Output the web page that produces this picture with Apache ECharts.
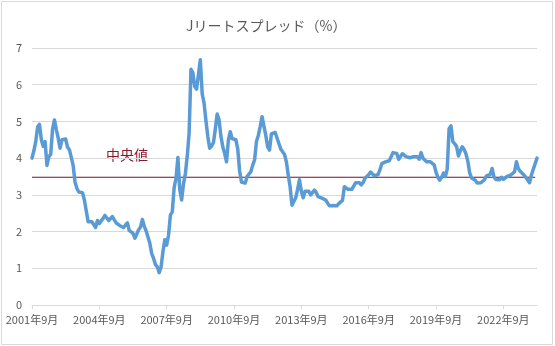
<!DOCTYPE html>
<html>
<head>
<meta charset="utf-8">
<script src="https://cdn.jsdelivr.net/npm/echarts@6/dist/echarts.min.js"></script>
<style>
  html, body { margin: 0; padding: 0; background: #fff; }
  #chart { width: 555px; height: 346px; }
</style>
</head>
<body>
<div id="chart"></div>
<script>
// J-REIT spread (%), monthly, from September 2001
const startYear = 2001;
const startMonth = 9;

const spread = [
  4.00, 4.20, 4.45, 4.85, 4.92, 4.50, 4.32, 4.45, 3.80, 4.04, 4.10, 4.80,
  5.04, 4.78, 4.55, 4.27, 4.50, 4.53, 4.52, 4.30, 4.23, 4.02, 3.80, 3.35,
  3.18, 3.08, 3.05, 3.06, 2.86, 2.82, 2.27, 2.32, 2.27, 2.23, 2.11, 2.30,
  2.22, 2.24, 2.36, 2.44, 2.45, 2.30, 2.33, 2.41, 2.32, 2.24, 2.20, 2.16,
  2.16, 2.11, 2.18, 2.24, 2.03, 2.00, 1.95, 1.82, 1.93, 2.05, 2.12, 2.33,
  2.15, 2.02, 1.85, 1.68, 1.40, 1.27, 1.10, 1.04, 0.88, 1.03, 1.45, 1.78,
  1.63, 1.90, 2.45, 2.54, 3.20, 3.45, 4.02, 3.15, 2.86, 3.30, 3.58, 4.05,
  4.68, 6.42, 6.33, 5.95, 5.88, 5.88, 6.68, 5.75, 5.50, 5.02, 4.59, 4.27,
  4.33, 4.42, 4.79, 5.20, 5.05, 4.60, 4.31, 4.13, 3.90, 4.50, 4.72, 4.53,
  4.56, 4.50, 4.25, 3.65, 3.35, 3.30, 3.32, 3.50, 3.45, 3.63, 3.81, 3.95,
  4.45, 4.62, 4.86, 5.13, 5.09, 4.62, 4.31, 4.22, 4.66, 4.63, 4.70, 4.55,
  4.40, 4.25, 4.20, 4.10, 3.90, 3.54, 3.22, 2.72, 2.72, 2.92, 3.15, 3.41,
  3.10, 2.92, 3.10, 3.05, 3.10, 3.00, 3.05, 3.13, 3.06, 2.95, 2.92, 2.91,
  2.88, 2.86, 2.82, 2.70, 2.75, 2.71, 2.75, 2.70, 2.76, 2.72, 2.85, 3.22,
  3.22, 3.15, 3.12, 3.15, 3.24, 3.33, 3.30, 3.33, 3.27, 3.33, 3.45, 3.43,
  3.55, 3.62, 3.63, 3.52, 3.48, 3.55, 3.68, 3.85, 3.88, 3.90, 3.95, 3.93,
  4.04, 4.15, 4.18, 4.13, 3.97, 4.02, 4.12, 4.07, 4.04, 4.03, 4.01, 4.00,
  4.04, 4.00, 4.04, 3.97, 4.15, 4.00, 4.02, 3.90, 3.95, 3.90, 3.90, 3.82,
  3.62, 3.48, 3.40, 3.48, 3.59, 3.50, 3.70, 4.80, 4.88, 4.45, 4.39, 4.32,
  4.06, 4.20, 4.31, 4.24, 4.12, 3.92, 3.60, 3.46, 3.42, 3.40, 3.32, 3.27,
  3.33, 3.36, 3.42, 3.52, 3.50, 3.56, 3.72, 3.48, 3.42, 3.45, 3.41, 3.48,
  3.42, 3.45, 3.50, 3.50, 3.54, 3.59, 3.63, 3.90, 3.72, 3.64, 3.68, 3.54,
  3.48, 3.45, 3.33, 3.54, 3.70, 3.65, 4.00
];

const medianValue = 3.48;
const medianLabel = '中央値';
const titleText = 'Jリートスプレッド（%）';
const yTicks = [0, 1, 2, 3, 4, 5, 6, 7];
const labelStepMonths = 36;

// Month categories, e.g. "2001年9月"
const months = spread.map((_, i) => {
  const t = (startMonth - 1) + i;
  return (startYear + Math.floor(t / 12)) + '年' + (t % 12 + 1) + '月';
});
// Median reference line runs to the month before the last observation
const medianSeries = months.map((_, i) => (i < months.length - 1 ? medianValue : null));

const FONT = '"Noto Sans CJK JP", "Noto Sans", sans-serif';
const chart = echarts.init(document.getElementById('chart'), null, { renderer: 'canvas' });

chart.setOption({
  animation: false,
  backgroundColor: '#ffffff',
  title: {
    text: titleText,
    left: 181,
    top: 14,
    textStyle: { fontFamily: FONT, fontSize: 14, fontWeight: 'normal', color: '#595959' }
  },
  grid: { left: 32, right: 18, top: 48, bottom: 41, containLabel: false },
  xAxis: {
    type: 'category',
    data: months,
    boundaryGap: false,
    axisLine: { show: true, lineStyle: { color: '#d9d9d9', width: 1 } },
    axisTick: {
      show: true,
      length: 4,
      interval: (i) => i % labelStepMonths === 0,
      lineStyle: { color: '#d9d9d9' }
    },
    axisLabel: {
      interval: (i) => i % labelStepMonths === 0,
      color: '#595959',
      fontFamily: FONT,
      fontSize: 11,
      margin: 9
    },
    splitLine: { show: false }
  },
  yAxis: {
    type: 'value',
    min: yTicks[0],
    max: yTicks[yTicks.length - 1],
    interval: 1,
    axisLine: { show: false },
    axisTick: { show: false },
    axisLabel: { color: '#595959', fontFamily: FONT, fontSize: 11, margin: 10 },
    splitLine: { show: true, lineStyle: { color: '#d9d9d9', width: 1 } }
  },
  series: [
    {
      name: medianLabel,
      type: 'line',
      data: medianSeries,
      symbol: 'none',
      lineStyle: { color: '#7f0f24', width: 1.2 },
      z: 2
    },
    {
      name: 'Jリートスプレッド',
      type: 'line',
      data: spread,
      symbol: 'none',
      smooth: false,
      lineStyle: { color: '#5b9bd5', width: 3.5, join: 'round', cap: 'round' },
      z: 3
    }
  ],
  graphic: [
    {
      type: 'rect',
      shape: { x: 1.5, y: 1.5, width: 551, height: 343 },
      style: { fill: 'none', stroke: '#d9d9d9', lineWidth: 1 },
      silent: true,
      z: -1
    },
    {
      type: 'text',
      left: 106,
      top: 148,
      style: { text: medianLabel, fill: '#8b1a30', font: '14px ' + FONT }
    }
  ]
});
</script>
</body>
</html>
